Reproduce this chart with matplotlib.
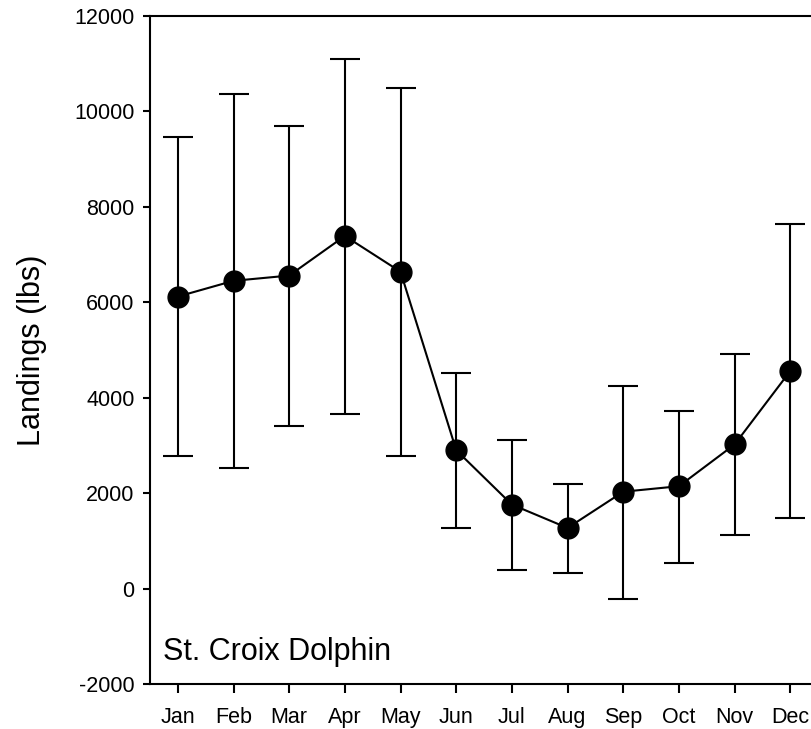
import numpy as np
from matplotlib import pyplot as plt

plt.rcParams['font.family'] = ['Liberation Sans', 'DejaVu Sans']
plt.rcParams['axes.unicode_minus'] = False

months = ['Jan', 'Feb', 'Mar', 'Apr', 'May', 'Jun',
          'Jul', 'Aug', 'Sep', 'Oct', 'Nov', 'Dec']
landings = [6120, 6450, 6560, 7390, 6640, 2900, 1760, 1270, 2030, 2145, 3020, 4560]
upper = [9460, 10370, 9690, 11090, 10490, 4525, 3110, 2195, 4250, 3730, 4925, 7650]
lower = [2775, 2530, 3400, 3650, 2775, 1272, 384, 329, -210, 538, 1118, 1474]
yticks = [-2000, 0, 2000, 4000, 6000, 8000, 10000, 12000]

x = np.arange(1, len(months) + 1)
y = np.array(landings)
yerr = [y - np.array(lower), np.array(upper) - y]

fig = plt.figure(figsize=(8.12, 7.29), dpi=100)
ax = fig.add_axes([150 / 812, 1 - 684 / 729, 1 - 150 / 812, 668 / 729])

ax.errorbar(x, y, yerr=yerr, color='black', lw=1.5, elinewidth=1.5,
            capsize=11, capthick=1.5, marker='o', markersize=15, zorder=3)

ax.set_xlim(0.5, 12.39)
ax.set_ylim(-2000, 12000)
ax.set_xticks(x)
ax.set_xticklabels(months)
ax.set_yticks(yticks)
ax.tick_params(axis='both', labelsize=15.5, width=1.5, direction='out')
ax.tick_params(axis='x', length=6.5, pad=10)
ax.tick_params(axis='y', length=5, pad=6)
for s in ['left', 'bottom', 'top']:
    ax.spines[s].set_linewidth(1.5)
ax.spines['right'].set_visible(False)

ax.set_ylabel('Landings (lbs)', fontsize=22, labelpad=20)
ax.text(0.02, 0.036, 'St. Croix Dolphin', transform=ax.transAxes,
        fontsize=22, ha='left', va='baseline')

fig.savefig('out.png', dpi=100)
